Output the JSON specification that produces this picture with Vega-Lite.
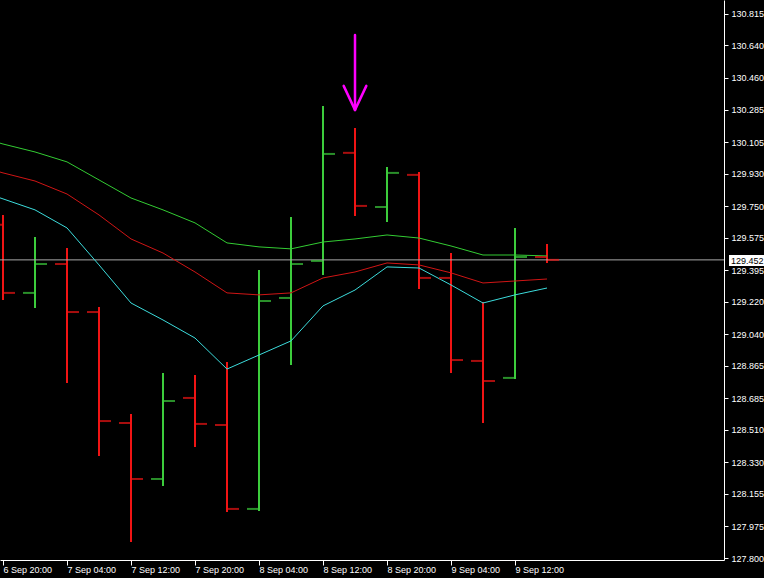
{
  "$schema": "https://vega.github.io/schema/vega-lite/v6.json",
  "width": 724,
  "height": 560,
  "autosize": "none",
  "padding": {"left": 0, "top": 0, "right": 40, "bottom": 18},
  "background": "#000000",
  "config": {
    "view": {"stroke": null},
    "axis": {
      "domainColor": "#ffffff",
      "tickColor": "#ffffff",
      "labelColor": "#ffffff",
      "labelFont": "Liberation Sans, sans-serif",
      "labelFontSize": 9,
      "grid": false,
      "labelOverlap": false,
      "labelFlush": false
    },
    "axisX": {
      "labelAlign": "left",
      "labelBaseline": "middle",
      "tickSize": 5,
      "labelPadding": 4
    },
    "axisY": {
      "labelAlign": "left",
      "labelBaseline": "middle",
      "tickSize": 4,
      "labelPadding": 3
    }
  },
  "datasets": {
    "bars": [
      {"t": "2020-09-06T20:00:00Z", "open": 129.646, "high": 129.701, "low": 129.230, "close": 129.269},
      {"t": "2020-09-07T00:00:00Z", "open": 129.269, "high": 129.579, "low": 129.186, "close": 129.429},
      {"t": "2020-09-07T04:00:00Z", "open": 129.429, "high": 129.518, "low": 128.770, "close": 129.163},
      {"t": "2020-09-07T08:00:00Z", "open": 129.163, "high": 129.191, "low": 128.365, "close": 128.559},
      {"t": "2020-09-07T12:00:00Z", "open": 128.548, "high": 128.598, "low": 127.889, "close": 128.238},
      {"t": "2020-09-07T16:00:00Z", "open": 128.238, "high": 128.825, "low": 128.199, "close": 128.670},
      {"t": "2020-09-07T20:00:00Z", "open": 128.687, "high": 128.814, "low": 128.415, "close": 128.543},
      {"t": "2020-09-08T00:00:00Z", "open": 128.537, "high": 128.886, "low": 128.055, "close": 128.072},
      {"t": "2020-09-08T04:00:00Z", "open": 128.072, "high": 129.396, "low": 128.060, "close": 129.224},
      {"t": "2020-09-08T08:00:00Z", "open": 129.241, "high": 129.690, "low": 128.870, "close": 129.429},
      {"t": "2020-09-08T12:00:00Z", "open": 129.446, "high": 130.305, "low": 129.368, "close": 130.039},
      {"t": "2020-09-08T16:00:00Z", "open": 130.045, "high": 130.183, "low": 129.695, "close": 129.751},
      {"t": "2020-09-08T20:00:00Z", "open": 129.745, "high": 129.967, "low": 129.662, "close": 129.934},
      {"t": "2020-09-09T00:00:00Z", "open": 129.923, "high": 129.939, "low": 129.291, "close": 129.352},
      {"t": "2020-09-09T04:00:00Z", "open": 129.352, "high": 129.490, "low": 128.825, "close": 128.897},
      {"t": "2020-09-09T08:00:00Z", "open": 128.892, "high": 129.219, "low": 128.548, "close": 128.781},
      {"t": "2020-09-09T12:00:00Z", "open": 128.798, "high": 129.629, "low": 128.792, "close": 129.468},
      {"t": "2020-09-09T16:00:00Z", "open": 129.468, "high": 129.540, "low": 129.435, "close": 129.452}
    ],
    "ma": [
      {"t": "2020-09-06T16:00:00Z", "upper": 130.144, "middle": 129.984, "lower": 129.851},
      {"t": "2020-09-06T20:00:00Z", "upper": 130.094, "middle": 129.934, "lower": 129.790},
      {"t": "2020-09-07T00:00:00Z", "upper": 130.050, "middle": 129.889, "lower": 129.729},
      {"t": "2020-09-07T04:00:00Z", "upper": 129.995, "middle": 129.817, "lower": 129.629},
      {"t": "2020-09-07T08:00:00Z", "upper": 129.895, "middle": 129.701, "lower": 129.424},
      {"t": "2020-09-07T12:00:00Z", "upper": 129.795, "middle": 129.568, "lower": 129.213},
      {"t": "2020-09-07T16:00:00Z", "upper": 129.729, "middle": 129.490, "lower": 129.119},
      {"t": "2020-09-07T20:00:00Z", "upper": 129.657, "middle": 129.385, "lower": 129.019},
      {"t": "2020-09-08T00:00:00Z", "upper": 129.546, "middle": 129.269, "lower": 128.847},
      {"t": "2020-09-08T04:00:00Z", "upper": 129.524, "middle": 129.258, "lower": 128.925},
      {"t": "2020-09-08T08:00:00Z", "upper": 129.513, "middle": 129.269, "lower": 129.003},
      {"t": "2020-09-08T12:00:00Z", "upper": 129.551, "middle": 129.352, "lower": 129.197},
      {"t": "2020-09-08T16:00:00Z", "upper": 129.568, "middle": 129.385, "lower": 129.285},
      {"t": "2020-09-08T20:00:00Z", "upper": 129.590, "middle": 129.435, "lower": 129.413},
      {"t": "2020-09-09T00:00:00Z", "upper": 129.573, "middle": 129.424, "lower": 129.407},
      {"t": "2020-09-09T04:00:00Z", "upper": 129.529, "middle": 129.380, "lower": 129.313},
      {"t": "2020-09-09T08:00:00Z", "upper": 129.479, "middle": 129.324, "lower": 129.213},
      {"t": "2020-09-09T12:00:00Z", "upper": 129.479, "middle": 129.335, "lower": 129.258},
      {"t": "2020-09-09T16:00:00Z", "upper": 129.474, "middle": 129.346, "lower": 129.296}
    ],
    "arrow": [
      {"t": "2020-09-08T16:00:00Z", "t2": "2020-09-08T16:00:00Z", "p": 130.698, "p2": 130.283},
      {"t": "2020-09-08T14:35:00Z", "t2": "2020-09-08T16:00:00Z", "p": 130.416, "p2": 130.283},
      {"t": "2020-09-08T17:25:00Z", "t2": "2020-09-08T16:00:00Z", "p": 130.416, "p2": 130.283}
    ],
    "price": [
      {"t": "2020-09-10T14:45:00Z", "t2": "2020-09-10T19:07:30Z", "tt": "2020-09-10T15:00:00Z", "p": 129.452, "ptop": 129.479, "pbot": 129.418}
    ]
  },
  "layer": [
    {
      "data": {"name": "bars"},
      "mark": {"type": "rule", "strokeWidth": 2},
      "encoding": {
        "x": {
          "field": "t", "type": "temporal", "title": null,
          "scale": {"type": "utc", "domain": [{"year": 2020, "month": 9, "date": 6, "hours": 19, "minutes": 37, "seconds": 30, "utc": true}, {"year": 2020, "month": 9, "date": 10, "hours": 14, "minutes": 7, "seconds": 30, "utc": true}]},
          "axis": {
            "orient": "bottom",
            "values": [
              {"year": 2020, "month": 9, "date": 6, "hours": 20, "utc": true},
              {"year": 2020, "month": 9, "date": 7, "hours": 4, "utc": true},
              {"year": 2020, "month": 9, "date": 7, "hours": 12, "utc": true},
              {"year": 2020, "month": 9, "date": 7, "hours": 20, "utc": true},
              {"year": 2020, "month": 9, "date": 8, "hours": 4, "utc": true},
              {"year": 2020, "month": 9, "date": 8, "hours": 12, "utc": true},
              {"year": 2020, "month": 9, "date": 8, "hours": 20, "utc": true},
              {"year": 2020, "month": 9, "date": 9, "hours": 4, "utc": true},
              {"year": 2020, "month": 9, "date": 9, "hours": 12, "utc": true}
            ],
            "tickCount": 40,
            "format": "%-d %b %H:%M",
            "labelAlign": "left",
            "labelOverlap": false,
            "title": null
          }
        },
        "y": {
          "field": "low", "type": "quantitative", "title": null,
          "scale": {"domain": [127.789, 130.892], "zero": false, "nice": false},
          "axis": {
            "orient": "right",
            "values": [130.815, 130.640, 130.460, 130.285, 130.105, 129.930, 129.750, 129.575, 129.395, 129.220, 129.040, 128.865, 128.685, 128.510, 128.330, 128.155, 127.975, 127.800],
            "tickCount": 40,
            "format": ".3f",
            "labelOverlap": false,
            "title": null
          }
        },
        "y2": {"field": "high"},
        "color": {"condition": {"test": "datum.close >= datum.open", "value": "#3ccc3c"}, "value": "#f01414"}
      }
    },
    {
      "data": {"name": "price"},
      "mark": {"type": "rule", "color": "#a8a8a8", "strokeWidth": 1},
      "encoding": {
        "y": {"field": "p", "type": "quantitative", "title": null}
      }
    },
    {
      "data": {"name": "ma"},
      "mark": {"type": "line", "color": "#33cc33", "strokeWidth": 1, "clip": true},
      "encoding": {
        "x": {"field": "t", "type": "temporal", "title": null},
        "y": {"field": "upper", "type": "quantitative", "title": null}
      }
    },
    {
      "data": {"name": "ma"},
      "mark": {"type": "line", "color": "#d01515", "strokeWidth": 1, "clip": true},
      "encoding": {
        "x": {"field": "t", "type": "temporal", "title": null},
        "y": {"field": "middle", "type": "quantitative", "title": null}
      }
    },
    {
      "data": {"name": "ma"},
      "mark": {"type": "line", "color": "#3cdcdc", "strokeWidth": 1, "clip": true},
      "encoding": {
        "x": {"field": "t", "type": "temporal", "title": null},
        "y": {"field": "lower", "type": "quantitative", "title": null}
      }
    },
    {
      "data": {"name": "bars"},
      "mark": {"type": "tick", "orient": "horizontal", "size": 11, "thickness": 2, "xOffset": -6.5},
      "encoding": {
        "x": {"field": "t", "type": "temporal", "title": null},
        "y": {"field": "open", "type": "quantitative", "title": null},
        "color": {"condition": {"test": "datum.close >= datum.open", "value": "#3ccc3c"}, "value": "#f01414"}
      }
    },
    {
      "data": {"name": "bars"},
      "mark": {"type": "tick", "orient": "horizontal", "size": 11, "thickness": 2, "xOffset": 6.5},
      "encoding": {
        "x": {"field": "t", "type": "temporal", "title": null},
        "y": {"field": "close", "type": "quantitative", "title": null},
        "color": {"condition": {"test": "datum.close >= datum.open", "value": "#3ccc3c"}, "value": "#f01414"}
      }
    },
    {
      "data": {"name": "arrow"},
      "mark": {"type": "rule", "color": "#ff00ff", "strokeWidth": 2.5, "strokeCap": "round"},
      "encoding": {
        "x": {"field": "t", "type": "temporal", "title": null},
        "x2": {"field": "t2"},
        "y": {"field": "p", "type": "quantitative", "title": null},
        "y2": {"field": "p2"}
      }
    },
    {
      "data": {"name": "price"},
      "mark": {"type": "rect", "color": "#ffffff", "clip": false},
      "encoding": {
        "x": {"field": "t", "type": "temporal", "title": null},
        "x2": {"field": "t2"},
        "y": {"field": "ptop", "type": "quantitative", "title": null},
        "y2": {"field": "pbot"}
      }
    },
    {
      "data": {"name": "price"},
      "mark": {"type": "text", "color": "#000000", "align": "left", "baseline": "middle", "font": "Liberation Sans, sans-serif", "fontSize": 9, "dy": 1},
      "encoding": {
        "x": {"field": "tt", "type": "temporal", "title": null},
        "y": {"field": "p", "type": "quantitative", "title": null},
        "text": {"field": "p", "type": "quantitative", "format": ".3f"}
      }
    }
  ]
}
